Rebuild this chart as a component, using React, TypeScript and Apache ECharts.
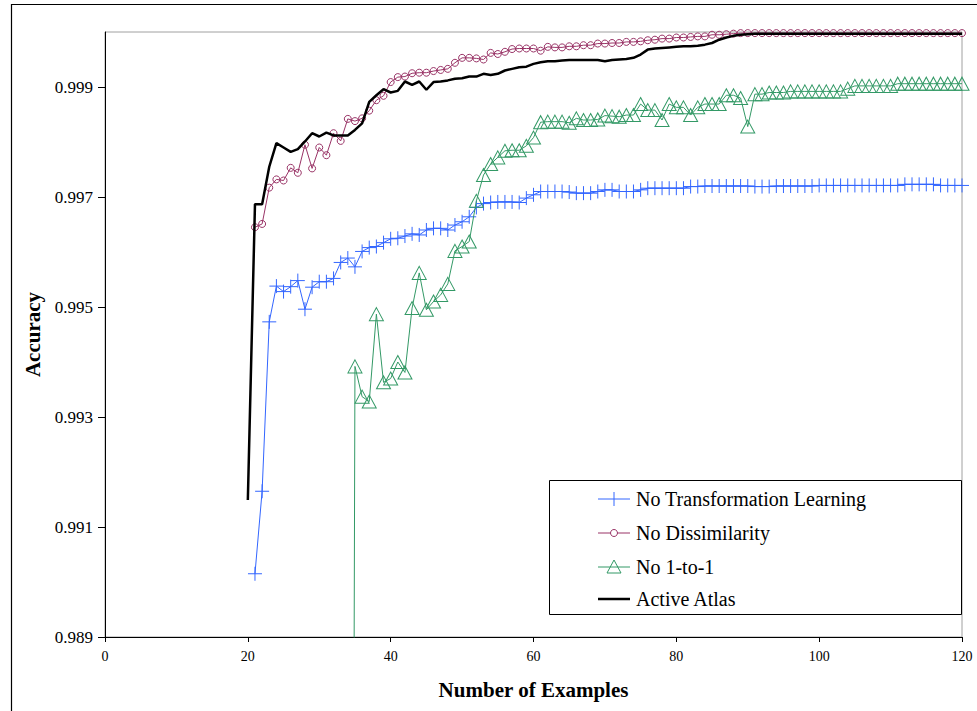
import React, { useEffect, useRef } from "react";
import * as echarts from "echarts";

// ---------- data ----------
const seriesNames = ["No Transformation Learning", "No Dissimilarity", "No 1-to-1", "Active Atlas"];
const xTicks = [0, 20, 40, 60, 80, 100, 120];
const yTicks = [0.989, 0.991, 0.993, 0.995, 0.997, 0.999];

// No Transformation Learning: x = 21..120
const noTransStart = 21;
const noTransformation = [
  0.99015, 0.99165, 0.99473, 0.99538, 0.99528, 0.99537, 0.99548, 0.99496, 0.99536, 0.99546,
  0.99546, 0.99552, 0.99581, 0.99589, 0.99573, 0.99601, 0.99608, 0.9961, 0.99617, 0.99624,
  0.99625, 0.99629, 0.99633, 0.99631, 0.9964, 0.99643, 0.99643, 0.9964, 0.99649, 0.99655,
  0.99664, 0.99681, 0.99688, 0.9969, 0.99691, 0.99691, 0.99691, 0.9969, 0.99698, 0.99704,
  0.9971, 0.9971, 0.9971, 0.9971, 0.99709, 0.99707, 0.99707, 0.99707, 0.9971, 0.99713,
  0.99713, 0.9971, 0.9971, 0.9971, 0.99713, 0.99716, 0.99716, 0.99716, 0.99716, 0.99716,
  0.99716, 0.99719, 0.99719, 0.9972, 0.9972, 0.9972, 0.9972, 0.9972, 0.9972, 0.9972,
  0.99719, 0.99719, 0.99719, 0.9972, 0.9972, 0.9972, 0.9972, 0.9972, 0.9972, 0.99721,
  0.99721, 0.99721, 0.99721, 0.99721, 0.99721, 0.99721, 0.99721, 0.99721, 0.99721, 0.99721,
  0.99721, 0.99723, 0.99723, 0.99723, 0.99723, 0.99723, 0.99721, 0.99721, 0.99721, 0.99721,
];

// No Dissimilarity: x = 21..120
const noDisStart = 21;
const noDissimilarity = [
  0.99645, 0.99651, 0.99717, 0.99732, 0.9973, 0.99753, 0.99744, 0.99795, 0.99752, 0.9979,
  0.99776, 0.99816, 0.99802, 0.99842, 0.99838, 0.99843, 0.99857, 0.99876, 0.99884, 0.99909,
  0.99918, 0.99919, 0.99925, 0.99926, 0.99926, 0.99929, 0.99931, 0.99933, 0.99944, 0.99953,
  0.99953, 0.99952, 0.9995, 0.99962, 0.9996, 0.99964, 0.99969, 0.9997, 0.9997, 0.9997,
  0.99966, 0.99973, 0.99972, 0.99972, 0.99974, 0.99974, 0.99976, 0.99976, 0.99979, 0.99979,
  0.9998, 0.9998, 0.99982, 0.99982, 0.99983, 0.99985, 0.99986, 0.99988, 0.99988, 0.9999,
  0.9999, 0.99991, 0.99992, 0.99992, 0.99995, 0.99995, 0.99996, 0.99997, 0.99998, 0.99998,
  0.99998, 0.99998, 0.99998, 0.99998, 0.99998, 0.99998, 0.99998, 0.99998, 0.99998, 0.99998,
  0.99998, 0.99998, 0.99998, 0.99998, 0.99998, 0.99998, 0.99998, 0.99998, 0.99998, 0.99998,
  0.99998, 0.99998, 0.99998, 0.99998, 0.99998, 0.99998, 0.99998, 0.99998, 0.99998, 0.99998,
];

// No 1-to-1: x = 34..120 (first value lies below the axis)
const no1to1Start = 34;
const no1to1 = [
  0.95, 0.99392, 0.99337, 0.99328, 0.99487, 0.99363, 0.9937, 0.994, 0.99381, 0.99498,
  0.99562, 0.99495, 0.9951, 0.99522, 0.99542, 0.99602, 0.9961, 0.99619, 0.99693, 0.9974,
  0.9976, 0.99772, 0.99784, 0.99785, 0.99785, 0.99793, 0.99808, 0.99836, 0.99837, 0.99837,
  0.99837, 0.99835, 0.99843, 0.9984, 0.9984, 0.99841, 0.99848, 0.99847, 0.99846, 0.99849,
  0.99849, 0.99869, 0.99858, 0.99858, 0.9984, 0.99869, 0.99863, 0.99863, 0.99849, 0.99863,
  0.99869, 0.99869, 0.99869, 0.99885, 0.99885, 0.9988, 0.99828, 0.99887, 0.99887, 0.9989,
  0.9989, 0.9989, 0.99892, 0.99892, 0.99892, 0.99892, 0.99892, 0.99892, 0.99892, 0.99892,
  0.99897, 0.99902, 0.99902, 0.99902, 0.99902, 0.99902, 0.99902, 0.99906, 0.99906, 0.99906,
  0.99906, 0.99906, 0.99906, 0.99906, 0.99906, 0.99906, 0.99906,
];

// Active Atlas: x = 20..120
const atlasStart = 20;
const activeAtlas = [
  0.99149, 0.99687, 0.99687, 0.99755, 0.99798, 0.9979, 0.99782, 0.99787, 0.99801, 0.99816,
  0.9981, 0.99817, 0.99812, 0.99812, 0.99812, 0.99822, 0.99834, 0.99873, 0.99885, 0.99896,
  0.9989, 0.99893, 0.9991, 0.99904, 0.9991, 0.99895, 0.99909, 0.9991, 0.99912, 0.99915,
  0.99916, 0.99919, 0.99919, 0.99924, 0.99922, 0.99924, 0.9993, 0.99933, 0.99936, 0.99937,
  0.99942, 0.99945, 0.99947, 0.99947, 0.99948, 0.99949, 0.99949, 0.99949, 0.99949, 0.99949,
  0.99947, 0.99949, 0.9995, 0.99951, 0.99953, 0.99959, 0.99968, 0.9997, 0.99971, 0.99972,
  0.99973, 0.99974, 0.99974, 0.99975, 0.99977, 0.9998, 0.99986, 0.9999, 0.99993, 0.99995,
  0.99996, 0.99997, 0.99997, 0.99997, 0.99997, 0.99997, 0.99997, 0.99997, 0.99997, 0.99997,
  0.99997, 0.99997, 0.99997, 0.99997, 0.99997, 0.99997, 0.99997, 0.99997, 0.99997, 0.99997,
  0.99997, 0.99997, 0.99997, 0.99997, 0.99997, 0.99997, 0.99997, 0.99997, 0.99997, 0.99997,
  0.99997,
];

// ---------- styles ----------
const BLUE = "#3366ff";
const RED = "#993366";
const GREEN = "#339966";
const BLACK = "#000000";
const FONT = "Liberation Serif";

const pairs = (start: number, vals: number[]) => vals.map((v, i) => [start + i, v]);

export default function App() {
  const ref = useRef<HTMLDivElement>(null);

  useEffect(() => {
    if (!ref.current) return;
    const chart = echarts.init(ref.current, null, { renderer: "svg" });

    const legendY = [499, 533, 567, 599];
    const lx0 = 598;
    const lx1 = 630;
    const lmid = 614;
    const legendGraphics: any[] = [
      {
        type: "rect",
        shape: { x: 549.5, y: 480.5, width: 412, height: 134 },
        style: { fill: "#fff", stroke: "#000", lineWidth: 1 },
        z: 100,
      },
    ];
    const colors = [BLUE, RED, GREEN, BLACK];
    seriesNames.forEach((name, i) => {
      const y = legendY[i];
      legendGraphics.push({
        type: "line",
        shape: { x1: lx0, y1: y, x2: lx1, y2: y },
        style: { stroke: colors[i], lineWidth: i === 3 ? 2.5 : 1 },
        z: 101,
      });
      if (i === 0) {
        legendGraphics.push({
          type: "line",
          shape: { x1: lmid, y1: y - 7, x2: lmid, y2: y + 7 },
          style: { stroke: BLUE, lineWidth: 1 },
          z: 101,
        });
      } else if (i === 1) {
        legendGraphics.push({
          type: "circle",
          shape: { cx: lmid, cy: y, r: 3.5 },
          style: { fill: "#fff", stroke: RED, lineWidth: 1 },
          z: 102,
        });
      } else if (i === 2) {
        legendGraphics.push({
          type: "polygon",
          shape: { points: [[lmid, y - 7], [lmid - 7, y + 6], [lmid + 7, y + 6]] },
          style: { fill: "rgba(255,255,255,0)", stroke: GREEN, lineWidth: 1 },
          z: 102,
        });
      }
      legendGraphics.push({
        type: "text",
        x: 636,
        y: y,
        style: {
          text: name,
          font: '20px "Liberation Serif", serif',
          fill: "#000",
          align: "left",
          verticalAlign: "middle",
        },
        z: 102,
      });
    });

    const option: any = {
      animation: false,
      backgroundColor: "#fff",
      grid: {
        left: 105,
        top: 32,
        right: 15,
        bottom: 74,
        show: true,
        borderColor: "#a0a0a0",
        borderWidth: 1,
      },
      xAxis: {
        type: "value",
        min: xTicks[0],
        max: xTicks[xTicks.length - 1],
        interval: 20,
        name: "Number of Examples",
        nameLocation: "middle",
        nameGap: 42,
        nameTextStyle: { fontFamily: FONT, fontSize: 21, fontWeight: "bold", color: "#000", lineHeight: 22 },
        axisLine: { lineStyle: { color: "#000", width: 1 } },
        axisTick: { show: true, length: 5, inside: false, lineStyle: { color: "#000" } },
        axisLabel: { fontFamily: FONT, fontSize: 14, color: "#000", margin: 12 },
        splitLine: { show: false },
      },
      yAxis: {
        type: "value",
        min: 0.989,
        max: 1.0,
        name: "Accuracy",
        nameLocation: "middle",
        nameGap: 60,
        nameTextStyle: { fontFamily: FONT, fontSize: 21, fontWeight: "bold", color: "#000" },
        axisLine: { show: true, lineStyle: { color: "#000", width: 1 } },
        axisTick: { show: true, length: 7, inside: false, customValues: yTicks, lineStyle: { color: "#000" } },
        axisLabel: {
          customValues: yTicks,
          fontFamily: FONT,
          fontSize: 17,
          color: "#000",
          margin: 12,
          formatter: (v: number) => v.toFixed(3),
        },
        splitLine: { show: false },
      },
      series: [
        {
          name: seriesNames[0],
          type: "line",
          data: pairs(noTransStart, noTransformation),
          symbol: "path://M0,7 L14,7 M7,0 L7,14",
          symbolSize: 14,
          showAllSymbol: true,
          lineStyle: { color: BLUE, width: 1 },
          itemStyle: { color: "rgba(0,0,0,0)", borderColor: BLUE, borderWidth: 1 },
          z: 2,
        },
        {
          name: seriesNames[1],
          type: "line",
          data: pairs(noDisStart, noDissimilarity),
          symbol: "circle",
          symbolSize: 7,
          showAllSymbol: true,
          lineStyle: { color: RED, width: 1 },
          itemStyle: { color: "rgba(255,255,255,0)", borderColor: RED, borderWidth: 1 },
          z: 3,
        },
        {
          name: seriesNames[2],
          type: "line",
          data: pairs(no1to1Start, no1to1),
          symbol: "triangle",
          symbolSize: [14, 13],
          showAllSymbol: true,
          clip: true,
          lineStyle: { color: GREEN, width: 1 },
          itemStyle: { color: "rgba(255,255,255,0)", borderColor: GREEN, borderWidth: 1 },
          z: 4,
        },
        {
          name: seriesNames[3],
          type: "line",
          data: pairs(atlasStart, activeAtlas),
          symbol: "none",
          lineStyle: { color: BLACK, width: 2.5 },
          z: 5,
        },
      ],
      graphic: [
        {
          type: "rect",
          shape: { x: 11.5, y: 4.5, width: 1100, height: 900 },
          style: { fill: "none", stroke: "#000", lineWidth: 1.2 },
          silent: true,
          z: 50,
        },
        ...legendGraphics,
      ],
    };

    chart.setOption(option);
    return () => chart.dispose();
  }, []);

  return (
    <div
      ref={ref}
      style={{ position: "fixed", left: 0, top: 0, width: 977, height: 711, background: "#fff" }}
    />
  );
}
